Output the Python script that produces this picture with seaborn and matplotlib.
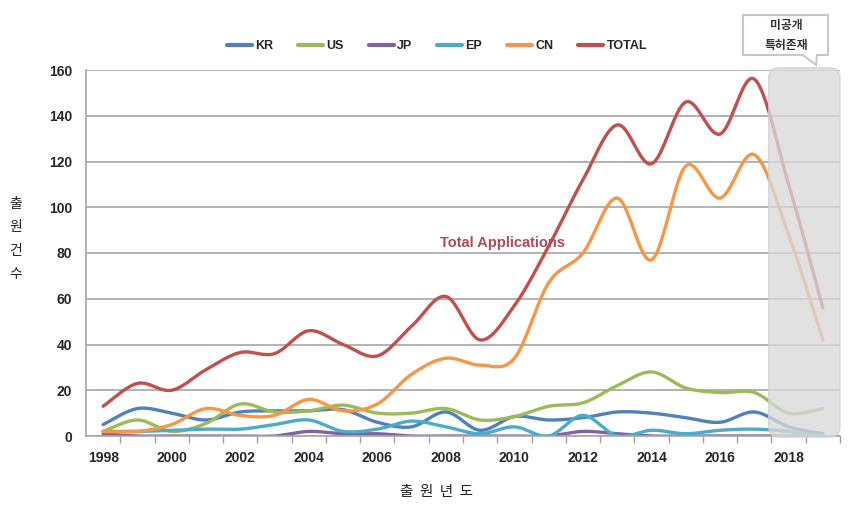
import numpy as np
import pandas as pd
import matplotlib
matplotlib.use('Agg')
import matplotlib.pyplot as plt
import seaborn as sns
from matplotlib.patches import FancyBboxPatch, Polygon

# 출원년도별 국가별 출원건수
years = list(range(1998, 2020))
kr = [5, 12, 10, 7, 10.5, 11, 11, 11.5, 6, 4, 10.5, 2.5, 8.5, 7, 8, 10.5, 10, 8, 6, 10.5, 4, 1]
us = [2, 7, 2, 5.5, 14, 10.5, 11, 13.5, 10, 10, 12, 7, 8.5, 13, 14.5, 22, 28, 21, 19, 19, 10, 12]
jp = [1, 0, 0, 0, 0, 0, 2, 1, 1, 0, 0, 0, 0, 0, 2, 1, 0, 0, 0, 0, 0, 0]
ep = [2, 2, 2.5, 3, 3, 5, 7, 2, 3, 6.5, 4, 1, 4, 0, 9, 0, 2.5, 1, 2.5, 3, 2, 0]
cn = [2, 2, 5, 12, 9, 9, 16, 11, 14, 27, 34, 31, 34, 67, 80, 104, 77, 118, 104, 123, 88, 42]
total = [13, 23, 20, 29, 36.5, 36, 46, 40, 35, 48, 61, 42, 57, 83, 112, 136, 119, 146, 132, 156, 110, 56]

series_names = ['KR', 'US', 'JP', 'EP', 'CN', 'TOTAL']
series_vals = [kr, us, jp, ep, cn, total]
colors = ['#4F81BD', '#9BBB59', '#8064A2', '#4BACC6', '#F79646', '#C0504D']


# excel 식 smoothed line (catmull-rom -> bezier)
def smooth(x, y, n=24):
    x = np.asarray(x, float)
    y = np.asarray(y, float)
    px = np.concatenate([[x[0]], x, [x[-1]]])
    py = np.concatenate([[y[0]], y, [y[-1]]])
    t = np.linspace(0, 1, n, endpoint=False)
    xs, ys = [], []
    for i in range(1, len(px) - 2):
        p0 = np.array([px[i], py[i]])
        p1 = np.array([px[i + 1], py[i + 1]])
        c1 = p0 + (p1 - np.array([px[i - 1], py[i - 1]])) / 6
        c2 = p1 - (np.array([px[i + 2], py[i + 2]]) - p0) / 6
        b = ((1 - t) ** 3)[:, None] * p0 + (3 * (1 - t) ** 2 * t)[:, None] * c1 \
            + (3 * (1 - t) * t ** 2)[:, None] * c2 + (t ** 3)[:, None] * p1
        xs.append(b[:, 0])
        ys.append(b[:, 1])
    xs.append([x[-1]])
    ys.append([y[-1]])
    return np.concatenate(xs), np.concatenate(ys)


rows = []
for name, vals in zip(series_names, series_vals):
    sx, sy = smooth(years, vals)
    rows.append(pd.DataFrame({'year': sx, 'count': sy, 'country': name}))
df = pd.concat(rows, ignore_index=True)

sns.set_style('white')
plt.rcParams['font.family'] = ['Liberation Sans', 'Noto Sans CJK KR', 'DejaVu Sans']

fig = plt.figure(figsize=(8.52, 5.05), dpi=100)
ax = fig.add_axes([86 / 852, 69 / 505, 754 / 852, 366 / 505])

sns.lineplot(data=df, x='year', y='count', hue='country', hue_order=series_names,
             palette=colors, estimator=None, sort=False, linewidth=2.4, ax=ax)

ax.set_xlim(1997.5, 2019.5)
ax.set_ylim(0, 160)
ax.set_yticks(range(0, 161, 20))
ax.set_xticks(range(1998, 2019, 2))
ax.set_xticks(np.arange(1998.5, 2019.6, 1), minor=True)
ax.tick_params(axis='x', which='major', length=0, pad=11)
ax.tick_params(axis='x', which='minor', length=5, width=1, color='#A0A0A0', direction='out', bottom=True)
ax.tick_params(axis='y', length=0, pad=10)
for lab in ax.get_xticklabels() + ax.get_yticklabels():
    lab.set_fontweight('bold')
    lab.set_fontsize(10)
    lab.set_color('#262626')

ax.yaxis.grid(True, color='#A6A6A6', linewidth=1.2)
ax.set_axisbelow(True)
for s in ['top', 'right']:
    ax.spines[s].set_visible(False)
for s in ['left', 'bottom']:
    ax.spines[s].set_color('#A6A6A6')
    ax.spines[s].set_linewidth(1.2)

ax.set_xlabel('')
ax.set_ylabel('')

# 범례
handles, labels = ax.get_legend_handles_labels()
ax.get_legend().remove()
leg = fig.legend(handles, labels, loc='center', bbox_to_anchor=(0.513, 0.909), ncol=6,
                 frameon=False, handlelength=2.0, columnspacing=2.0, handletextpad=0.25,
                 prop={'weight': 'bold', 'size': 9})
for h in leg.get_lines():
    h.set_linewidth(3)

# 미공개 구간 음영
box = FancyBboxPatch((2017.42, -0.5), 2019.5 - 2017.42, 161.5,
                     boxstyle='round,pad=0,rounding_size=0.3', mutation_aspect=15,
                     facecolor='#D9D9D9', edgecolor='#CFCFCF', alpha=0.78,
                     zorder=5, clip_on=False, transform=ax.transData)
ax.add_patch(box)

# 말풍선
def fp(x, y):
    return (x / 852, 1 - y / 505)

pts = [fp(743, 15), fp(828, 15), fp(828, 55), fp(817, 55), fp(816, 65), fp(803, 55), fp(743, 55)]
fig.patches.append(Polygon(pts, closed=True, facecolor='white', edgecolor='#C8C8C8',
                           linewidth=1.5, transform=fig.transFigure, zorder=10))
fig.text(*fp(786, 26), '미공개', ha='center', va='center', fontsize=8.5, fontweight='bold',
         color='#333333', family='Noto Sans CJK KR', zorder=11)
fig.text(*fp(786, 45), '특허존재', ha='center', va='center', fontsize=8.5, fontweight='bold',
         color='#333333', family='Noto Sans CJK KR', zorder=11)

ax.text(2009.66, 84.5, 'Total Applications', ha='center', va='center', fontsize=10.5,
        fontweight='bold', color='#B04A5A', zorder=6)

fig.text(*fp(16, 239), '출\n원\n건\n수', ha='center', va='center', fontsize=10,
         linespacing=1.85, color='#222222', family='Noto Sans CJK KR')
fig.text(*fp(437, 492), '출  원  년  도', ha='center', va='center', fontsize=10.5,
         color='#222222', family='Noto Sans CJK KR')

fig.savefig('out.png', dpi=100)
